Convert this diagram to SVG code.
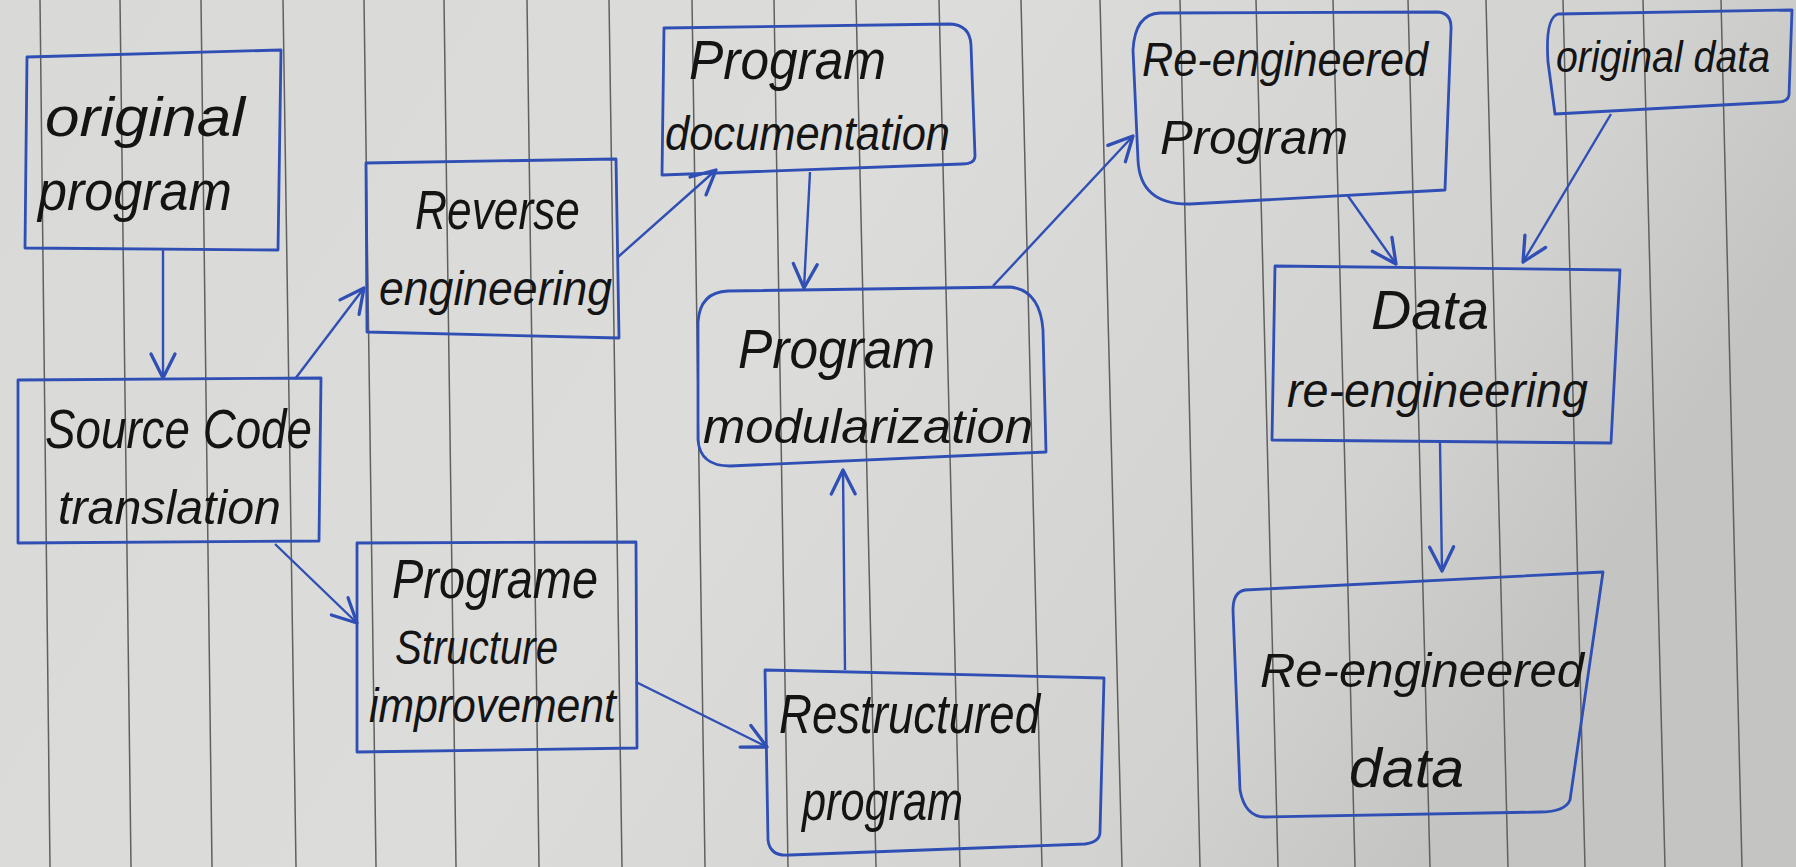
<svg xmlns="http://www.w3.org/2000/svg" width="1796" height="867" viewBox="0 0 1796 867">
<defs>
<linearGradient id="paper" x1="0" y1="0" x2="1" y2="0.3">
<stop offset="0" stop-color="#d9d9d7"/>
<stop offset="0.5" stop-color="#dcdcda"/>
<stop offset="0.85" stop-color="#d2d2d0"/>
<stop offset="1" stop-color="#c4c4c2"/>
</linearGradient>
<marker id="arr" markerUnits="userSpaceOnUse" markerWidth="30" markerHeight="30" viewBox="0 0 20 20" refX="18" refY="10" orient="auto">
<path d="M2,2 L18,10 L2,18" fill="none" stroke="#2f4fb5" stroke-width="2.2" stroke-linecap="round" stroke-linejoin="round"/>
</marker>
<style>
.rule{stroke:#606060;stroke-width:1.5;fill:none}
.box{fill:none;stroke:#2f4fb5;stroke-width:2.8;stroke-linejoin:round}
.con{fill:none;stroke:#2f4fb5;stroke-width:2.4;marker-end:url(#arr)}
.t{font-family:"Liberation Sans",Arial,sans-serif;font-style:italic;fill:#141414;font-size:56px}
.s{font-size:48px}
.xs{font-size:44px}
</style>
</defs>
<rect x="0" y="0" width="1796" height="867" fill="url(#paper)"/>
<g id="rules">
<line class="rule" x1="40" y1="0" x2="50" y2="867"/>
<line class="rule" x1="120" y1="0" x2="131" y2="867"/>
<line class="rule" x1="201" y1="0" x2="212" y2="867"/>
<line class="rule" x1="283" y1="0" x2="296" y2="867"/>
<line class="rule" x1="364" y1="0" x2="376" y2="867"/>
<line class="rule" x1="444" y1="0" x2="456" y2="867"/>
<line class="rule" x1="527" y1="0" x2="539" y2="867"/>
<line class="rule" x1="609" y1="0" x2="622" y2="867"/>
<line class="rule" x1="692" y1="0" x2="705" y2="867"/>
<line class="rule" x1="774" y1="0" x2="788" y2="867"/>
<line class="rule" x1="856" y1="0" x2="876" y2="867"/>
<line class="rule" x1="939" y1="0" x2="960" y2="867"/>
<line class="rule" x1="1021" y1="0" x2="1042" y2="867"/>
<line class="rule" x1="1100" y1="0" x2="1122" y2="867"/>
<line class="rule" x1="1180" y1="0" x2="1200" y2="867"/>
<line class="rule" x1="1256" y1="0" x2="1278" y2="867"/>
<line class="rule" x1="1333" y1="0" x2="1355" y2="867"/>
<line class="rule" x1="1408" y1="0" x2="1430" y2="867"/>
<line class="rule" x1="1486" y1="0" x2="1508" y2="867"/>
<line class="rule" x1="1563" y1="0" x2="1585" y2="867"/>
<line class="rule" x1="1643" y1="0" x2="1665" y2="867"/>
<line class="rule" x1="1721" y1="0" x2="1742" y2="867"/>
</g>
<g id="connectors">
<line class="con" x1="163" y1="250" x2="163" y2="378"/>
<line class="con" x1="295" y1="379" x2="364" y2="288"/>
<line class="con" x1="275" y1="544" x2="357" y2="623"/>
<line class="con" x1="618" y1="257" x2="716" y2="170"/>
<line class="con" x1="810" y1="172" x2="804" y2="288"/>
<line class="con" x1="636" y1="682" x2="767" y2="747"/>
<line class="con" x1="845" y1="670" x2="843" y2="470"/>
<line class="con" x1="993" y1="286" x2="1133" y2="136"/>
<line class="con" x1="1348" y1="196" x2="1396" y2="264"/>
<line class="con" x1="1611" y1="114" x2="1523" y2="262"/>
<line class="con" x1="1440" y1="443" x2="1442" y2="571"/>
</g>
<g id="original-program">
<path class="box" d="M27,57 L281,50 L278,250 L25,248 Z"/>
<text class="t" x="45" y="136" textLength="200" lengthAdjust="spacingAndGlyphs">original</text>
<text class="t" x="38" y="210" textLength="194" lengthAdjust="spacingAndGlyphs">program</text>
</g>
<g id="source-code-translation">
<path class="box" d="M18,380 L321,378 L319,541 L18,543 Z"/>
<text class="t" x="45" y="448" textLength="267" lengthAdjust="spacingAndGlyphs">Source Code</text>
<text class="t s" x="58" y="524" textLength="223" lengthAdjust="spacingAndGlyphs">translation</text>
</g>
<g id="reverse-engineering">
<path class="box" d="M366,163 L616,159 L619,338 L367,332 Z"/>
<text class="t" x="415" y="229" textLength="165" lengthAdjust="spacingAndGlyphs">Reverse</text>
<text class="t s" x="379" y="305" textLength="233" lengthAdjust="spacingAndGlyphs">engineering</text>
</g>
<g id="programe-structure-improvement">
<path class="box" d="M357,543 L636,542 L637,748 L357,752 Z"/>
<text class="t" x="392" y="598" textLength="206" lengthAdjust="spacingAndGlyphs">Programe</text>
<text class="t s" x="395" y="664" textLength="163" lengthAdjust="spacingAndGlyphs">Structure</text>
<text class="t s" x="369" y="722" textLength="247" lengthAdjust="spacingAndGlyphs">improvement</text>
</g>
<g id="program-documentation">
<path class="box" d="M664,28 L950,24 Q970,25 971,45 L975,156 Q975,164 962,164 L662,175 Z"/>
<text class="t" x="689" y="79" textLength="197" lengthAdjust="spacingAndGlyphs">Program</text>
<text class="t s" x="665" y="150" textLength="285" lengthAdjust="spacingAndGlyphs">documentation</text>
</g>
<g id="program-modularization">
<path class="box" d="M728,291 L1010,287 Q1040,290 1043,330 L1046,452 L730,466 Q700,466 698,440 L698,322 Q700,292 728,291 Z"/>
<text class="t" x="738" y="368" textLength="197" lengthAdjust="spacingAndGlyphs">Program</text>
<text class="t s" x="703" y="443" textLength="330" lengthAdjust="spacingAndGlyphs">modularization</text>
</g>
<g id="restructured-program">
<path class="box" d="M765,670 L1104,678 L1100,832 Q1100,842 1085,844 L790,855 Q770,857 768,840 Z"/>
<text class="t" x="779" y="733" textLength="261" lengthAdjust="spacingAndGlyphs">Restructured</text>
<text class="t" x="802" y="820" textLength="161" lengthAdjust="spacingAndGlyphs">program</text>
</g>
<g id="re-engineered-program">
<path class="box" d="M1160,13 L1438,12 Q1452,13 1451,30 L1445,190 L1190,204 Q1140,205 1138,160 L1133,50 Q1135,14 1160,13 Z"/>
<text class="t s" x="1142" y="76" textLength="286" lengthAdjust="spacingAndGlyphs">Re-engineered</text>
<text class="t s" x="1160" y="154" textLength="188" lengthAdjust="spacingAndGlyphs">Program</text>
</g>
<g id="original-data">
<path class="box" d="M1558,14 L1792,10 L1789,95 Q1788,102 1778,102 L1555,114 L1548,62 Q1545,18 1558,14 Z"/>
<text class="t xs" x="1556" y="72" textLength="214" lengthAdjust="spacingAndGlyphs">original data</text>
</g>
<g id="data-re-engineering">
<path class="box" d="M1275,266 L1620,270 L1611,443 L1272,440 Z"/>
<text class="t" x="1371" y="329" textLength="118" lengthAdjust="spacingAndGlyphs">Data</text>
<text class="t s" x="1287" y="407" textLength="301" lengthAdjust="spacingAndGlyphs">re-engineering</text>
</g>
<g id="re-engineered-data">
<path class="box" d="M1245,590 L1603,572 L1570,800 Q1565,812 1540,812 L1265,817 Q1245,817 1240,790 L1233,610 Q1233,592 1245,590 Z"/>
<text class="t s" x="1260" y="687" textLength="324" lengthAdjust="spacingAndGlyphs">Re-engineered</text>
<text class="t" x="1349" y="787" textLength="115" lengthAdjust="spacingAndGlyphs">data</text>
</g>
</svg>
